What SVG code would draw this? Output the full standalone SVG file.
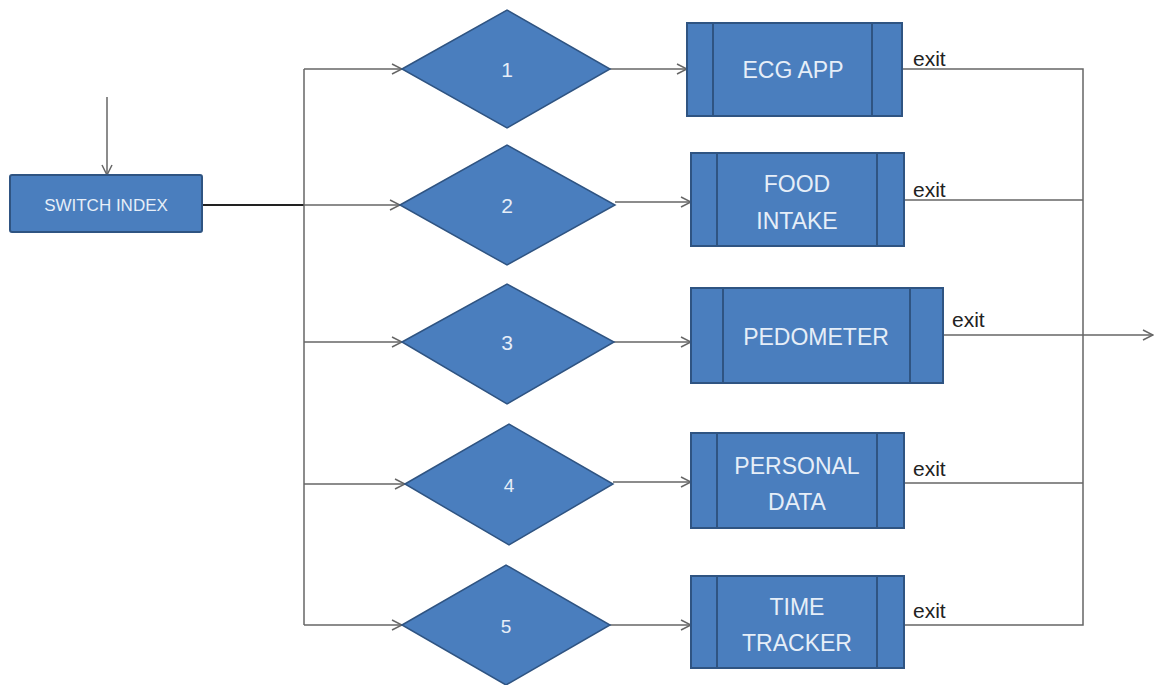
<svg xmlns="http://www.w3.org/2000/svg" width="1156" height="685" viewBox="0 0 1156 685">
<style>
.box{fill:#4a7ebe;stroke:#2f5482;stroke-width:2}
.div{stroke:#2f5482;stroke-width:2}
.dia{fill:#4a7ebe;stroke:#2f5482;stroke-width:1.5}
.lbl{font-family:"Liberation Sans",Arial,sans-serif;fill:#e6eef8;text-anchor:middle}
.ex{font-family:"Liberation Sans",Arial,sans-serif;fill:#222;font-size:21px}
.ln{fill:none;stroke:#666;stroke-width:1.5}
.ar{marker-end:url(#arr)}
</style>
<defs>
<marker id="arr" viewBox="0 0 12 12" refX="11" refY="6" markerWidth="12" markerHeight="12" markerUnits="userSpaceOnUse" orient="auto">
<path d="M1,1 L11,6 L1,11" fill="none" stroke="#666" stroke-width="1.5"/>
</marker>
</defs>
<rect width="1156" height="685" fill="#ffffff"/>
<g id="connectors">
<path class="ln ar" d="M107,97 V175"/>
<path d="M202,205 H304" fill="none" stroke="#222" stroke-width="2.2"/>
<path class="ln" d="M304,69 V625"/>
<path class="ln ar" d="M304,69 H402"/>
<path class="ln ar" d="M304,205 H400"/>
<path class="ln ar" d="M304,342 H402"/>
<path class="ln ar" d="M304,484 H405"/>
<path class="ln ar" d="M304,625 H402"/>
<path class="ln ar" d="M610,69 H687"/>
<path class="ln ar" d="M615,202 H691"/>
<path class="ln ar" d="M614,342 H691"/>
<path class="ln ar" d="M613,482 H691"/>
<path class="ln ar" d="M610,625 H691"/>
<path class="ln" d="M902,69 H1083 V625 H904"/>
<path class="ln" d="M904,200 H1083"/>
<path class="ln" d="M904,483 H1083"/>
<path class="ln ar" d="M943,335 H1153"/>
<text class="ex" x="913" y="66">exit</text>
<text class="ex" x="913" y="197">exit</text>
<text class="ex" x="952" y="327">exit</text>
<text class="ex" x="913" y="476">exit</text>
<text class="ex" x="913" y="618">exit</text>
</g>
<g id="switch-index">
<rect class="box" x="10" y="175" width="192" height="57" rx="2"/>
<text class="lbl" x="106" y="211" font-size="17">SWITCH INDEX</text>
</g>
<g id="d1">
<polygon class="dia" points="402,69 507,10 610,69 507,128"/>
<text class="lbl" x="507" y="77" font-size="21">1</text>
</g>
<g id="d2">
<polygon class="dia" points="400,205 507,145 615,205 507,265"/>
<text class="lbl" x="507" y="213" font-size="21">2</text>
</g>
<g id="d3">
<polygon class="dia" points="402,342 507,284 614,342 507,404"/>
<text class="lbl" x="507" y="350" font-size="21">3</text>
</g>
<g id="d4">
<polygon class="dia" points="405,484 509,424 613,484 509,545"/>
<text class="lbl" x="509" y="492" font-size="19">4</text>
</g>
<g id="d5">
<polygon class="dia" points="402,625 506,565 610,625 506,685"/>
<text class="lbl" x="506" y="633" font-size="19">5</text>
</g>
<g id="ecg-app">
<rect class="box" x="687" y="23" width="215" height="93"/>
<line class="div" x1="713" y1="23" x2="713" y2="116"/>
<line class="div" x1="872" y1="23" x2="872" y2="116"/>
<text class="lbl" x="793" y="78" font-size="23">ECG APP</text>
</g>
<g id="food-intake">
<rect class="box" x="691" y="153" width="213" height="93"/>
<line class="div" x1="717" y1="153" x2="717" y2="246"/>
<line class="div" x1="877" y1="153" x2="877" y2="246"/>
<text class="lbl" x="797" y="192" font-size="23">FOOD</text>
<text class="lbl" x="797" y="229" font-size="23">INTAKE</text>
</g>
<g id="pedometer">
<rect class="box" x="691" y="288" width="252" height="95"/>
<line class="div" x1="723" y1="288" x2="723" y2="383"/>
<line class="div" x1="910" y1="288" x2="910" y2="383"/>
<text class="lbl" x="816" y="345" font-size="23">PEDOMETER</text>
</g>
<g id="personal-data">
<rect class="box" x="691" y="433" width="213" height="95"/>
<line class="div" x1="717" y1="433" x2="717" y2="528"/>
<line class="div" x1="877" y1="433" x2="877" y2="528"/>
<text class="lbl" x="797" y="474" font-size="23">PERSONAL</text>
<text class="lbl" x="797" y="510" font-size="23">DATA</text>
</g>
<g id="time-tracker">
<rect class="box" x="691" y="576" width="213" height="92"/>
<line class="div" x1="717" y1="576" x2="717" y2="668"/>
<line class="div" x1="877" y1="576" x2="877" y2="668"/>
<text class="lbl" x="797" y="615" font-size="23">TIME</text>
<text class="lbl" x="797" y="651" font-size="23">TRACKER</text>
</g>
</svg>
